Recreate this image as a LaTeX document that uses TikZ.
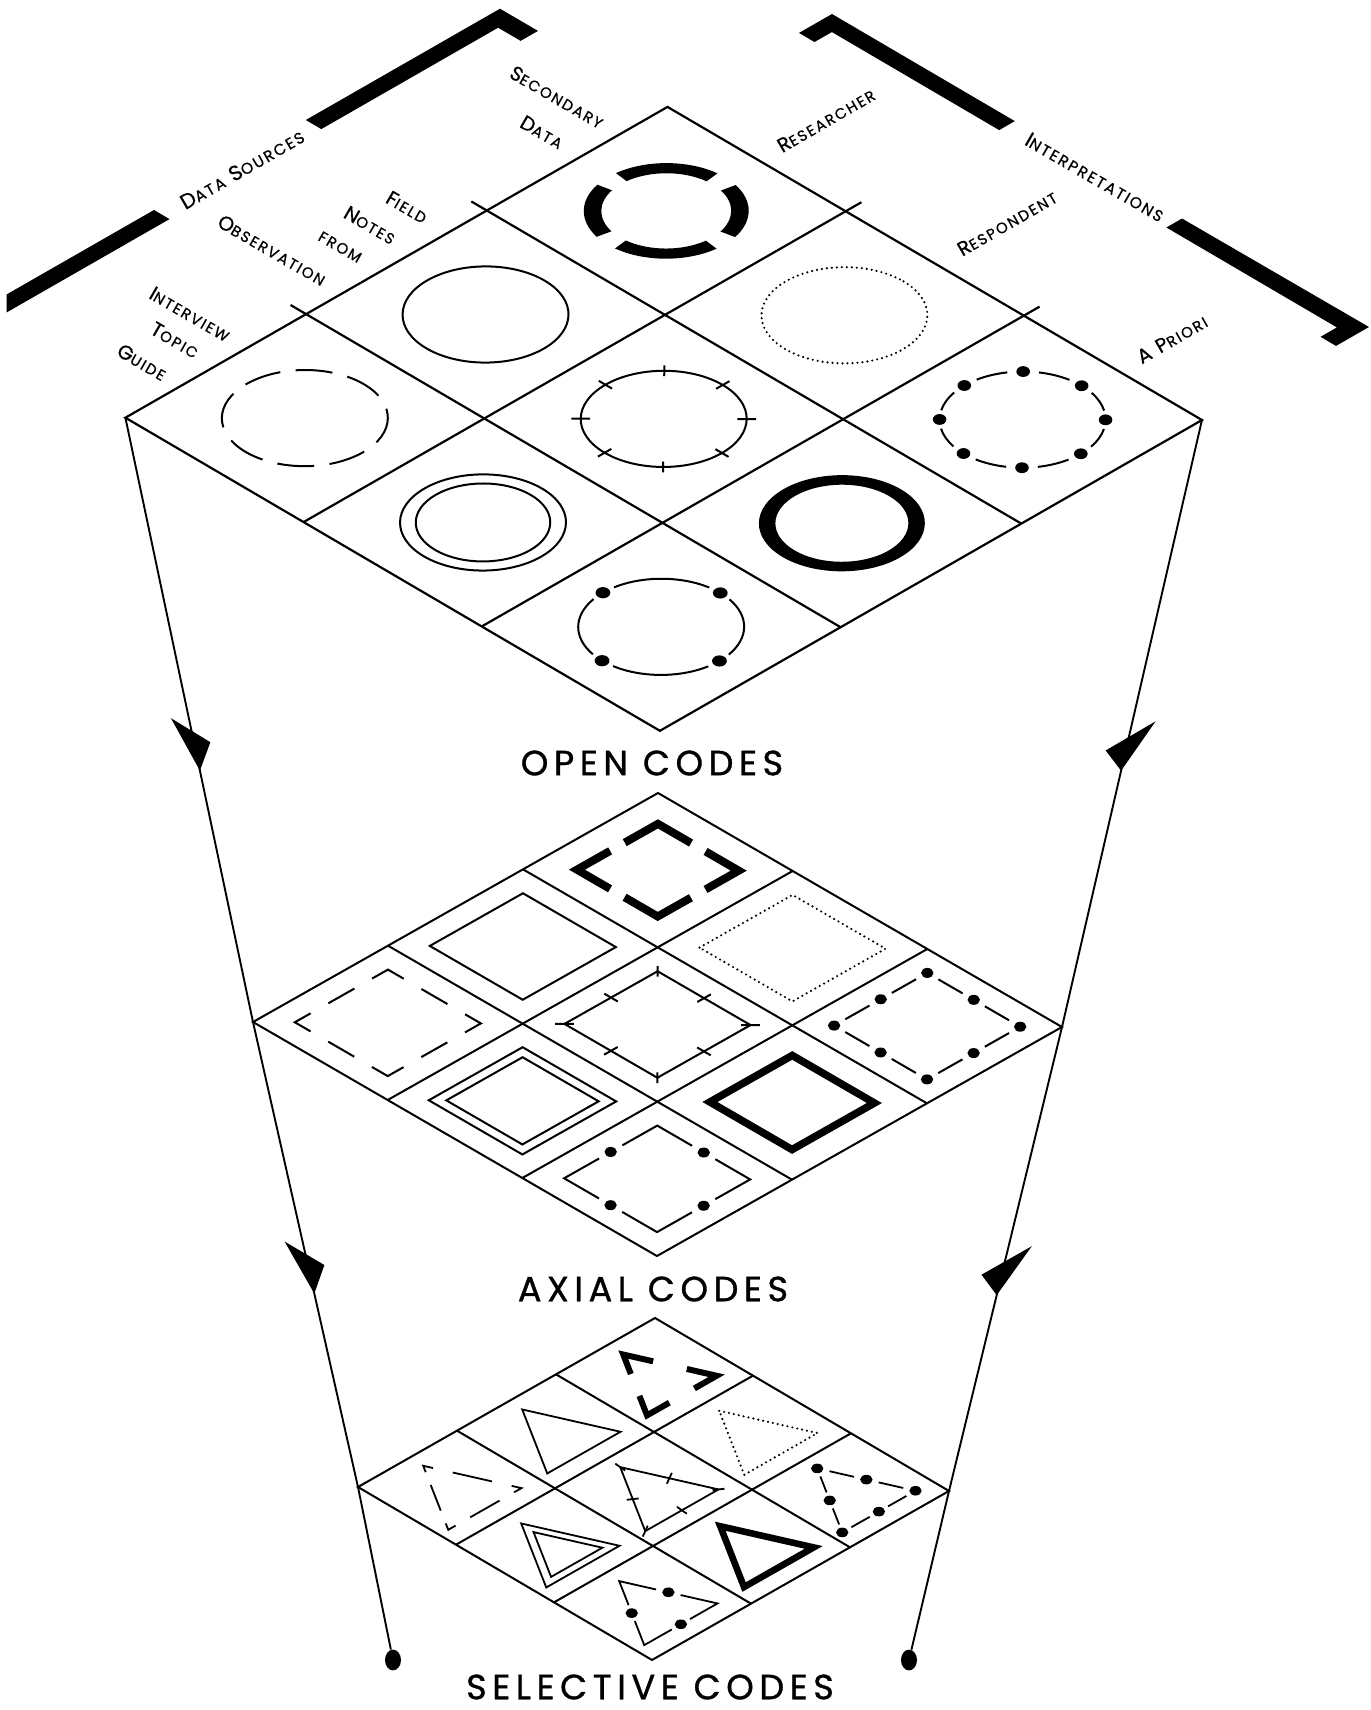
\documentclass[tikz,border=0pt]{standalone}
\usepackage{fontspec}
\setmainfont{Poppins}[LetterSpace=12,FakeBold=0.6]
\newfontfamily\bigfont{Poppins}[LetterSpace=16,FakeBold=1.0]
\usetikzlibrary{calc,decorations.markings,shapes.geometric}
\newcommand\SCa[2]{{\fontsize{10}{12}\selectfont #1}{\fontsize{7.5}{9}\selectfont #2}}
\newcommand\SCb[2]{{\fontsize{10.5}{12}\selectfont #1}{\fontsize{7.8}{9}\selectfont #2}}
% ---------- rings (top grid) ----------
\newcommand\RgThin{\draw[shp] (0,0) circle[radius=0.327];}
\newcommand\RgDash{\draw[shp,dash pattern=on 18.5pt off 7.7pt,dash phase=9.25pt] (0,0) circle[radius=0.327];}
\newcommand\RgDot{\draw[shp,dotpat] (0,0) circle[radius=0.327];}
\newcommand\RgTick{\draw[shp] (0,0) circle[radius=0.327];
  \foreach \a in {0,45,...,315} \draw[shp] (\a:0.29) -- (\a:0.364);}
\newcommand\RgDouble{\draw[shp] (0,0) circle[radius=0.327]; \draw[shp] (0,0) circle[radius=0.265];}
\newcommand\RgThick{\fill[even odd rule] (0,0) circle[radius=0.327] (0,0) circle[radius=0.262];}
\newcommand\RgBrk{\foreach \s/\e in {12/78,97/173,192/258,277/353}
  \fill (\s:0.325) arc[start angle=\s,end angle=\e,radius=0.325] -- (\e:0.256) arc[start angle=\e,end angle=\s,radius=0.256] -- cycle;}
\newcommand\RgEight{\foreach \a in {0,45,...,315} {
  \draw[shp] (\a+11:0.327) arc[start angle=\a+11,end angle=\a+34,radius=0.327];
  \fill (\a:0.327) ellipse[x radius=3.4pt,y radius=2.7pt];}}
\newcommand\RgFour{\foreach \a in {0,90,180,270} {
  \draw[shp] (\a+10:0.327) arc[start angle=\a+10,end angle=\a+80,radius=0.327];
  \fill (\a:0.327) ellipse[x radius=3.7pt,y radius=2.8pt];}}
% ---------- squares (middle grid) ----------
\newcommand\SqPath[2]{\draw[#1] (-#2,-#2) -- (#2,-#2) -- (#2,#2) -- (-#2,#2) -- cycle;}
\newcommand\SqSet[1]{\coordinate (s1) at (-#1,-#1); \coordinate (s2) at (#1,-#1);
  \coordinate (s3) at (#1,#1); \coordinate (s4) at (-#1,#1);
  \coordinate (m1) at (0,-#1); \coordinate (m2) at (#1,0); \coordinate (m3) at (0,#1); \coordinate (m4) at (-#1,0);}
\newcommand\SqCorners[2]{\foreach \p/\c/\n in {s4/s1/s2,s1/s2/s3,s2/s3/s4,s3/s4/s1}
  \draw[#1] ($(\c)!#2!(\p)$) -- (\c) -- ($(\c)!#2!(\n)$);}
\newcommand\SqThin{\SqPath{shp}{0.345}}
\newcommand\SqDot{\SqPath{shp,dotpat}{0.345}}
\newcommand\SqDouble{\SqPath{shp}{0.3475}\SqPath{shp}{0.2825}}
\newcommand\SqThick{\SqPath{line width=3.75pt}{0.305}}
\newcommand\SqTick{\SqThin
  \foreach \x/\y in {1/1,1/-1,-1/1,-1/-1} \draw[shp] (\x*0.31,\y*0.31) -- (\x*0.38,\y*0.38);
  \foreach \a in {0,90,180,270} \draw[shp] (\a:0.295) -- (\a:0.395);}
\newcommand\SqBrk{\SqSet{0.30}\SqCorners{line width=4pt}{0.41}}
\newcommand\SqDash{\SqSet{0.345}\SqCorners{shp}{0.17}
  \foreach \c/\n in {s1/s2,s2/s3,s3/s4,s4/s1} \draw[shp] ($(\c)!0.36!(\n)$) -- ($(\c)!0.64!(\n)$);}
\newcommand\SqEight{\SqSet{0.345}
  \foreach \a/\b in {s1/m1,m1/s2,s2/m2,m2/s3,s3/m3,m3/s4,s4/m4,m4/s1} {
    \draw[shp] ($(\a)!0.24!(\b)$) -- ($(\a)!0.76!(\b)$);
    \fill (\a) ellipse[x radius=3.1pt,y radius=2.5pt];}}
\newcommand\SqFour{\SqSet{0.345}
  \foreach \a/\c/\b in {m1/s2/m2,m2/s3/m3,m3/s4/m4,m4/s1/m1}
    \draw[shp] ($(\a)!0.25!(\c)$) -- (\c) -- ($(\b)!0.25!(\c)$);
  \foreach \m in {m1,m2,m3,m4} \fill (\m) ellipse[x radius=3.1pt,y radius=2.5pt];}
% ---------- triangles (selective grid) ----------
\newcommand\TriSet[1]{\coordinate (G) at (-0.02,0.1);
  \coordinate (tA) at ($(G)!#1!(0.02,-0.36)$);
  \coordinate (tB) at ($(G)!#1!(0.33,0.33)$);
  \coordinate (tC) at ($(G)!#1!(-0.41,0.33)$);
  \coordinate (mAB) at ($(tA)!0.5!(tB)$);
  \coordinate (mBC) at ($(tB)!0.5!(tC)$);
  \coordinate (mCA) at ($(tC)!0.5!(tA)$);}
\newcommand\TriPath[1]{\draw[#1] (tA) -- (tB) -- (tC) -- cycle;}
\newcommand\TrCorners[2]{\foreach \p/\c/\n in {tC/tA/tB,tA/tB/tC,tB/tC/tA}
  \draw[#1] ($(\c)!#2!(\p)$) -- (\c) -- ($(\c)!#2!(\n)$);}
\newcommand\TrThin{\TriSet{1}\TriPath{shp}}
\newcommand\TrDot{\TriSet{1}\TriPath{shp,dotpat}}
\newcommand\TrThick{\TriSet{0.95}\TriPath{line width=3.3pt}}
\newcommand\TrDouble{\TriSet{1}\TriPath{shp}\TriSet{0.7}\TriPath{shp}}
\newcommand\TrBrk{\TriSet{0.95}\TrCorners{line width=3pt}{0.32}}
\newcommand\TrDash{\TriSet{1}\TrCorners{shp}{0.1}
  \foreach \c/\n in {tA/tB,tB/tC,tC/tA} \draw[shp] ($(\c)!0.3!(\n)$) -- ($(\c)!0.7!(\n)$);}
\newcommand\TrTick{\TriSet{1}\TriPath{shp}
  \foreach \q in {tA,tB,tC,mAB,mBC,mCA} \draw[shp] ($(\q)!3pt!(G)$) -- ($(\q)!-3pt!(G)$);}
\newcommand\TrSix{\TriSet{1}
  \foreach \a/\b in {tA/mAB,mAB/tB,tB/mBC,mBC/tC,tC/mCA,mCA/tA} {
    \draw[shp] ($(\a)!0.25!(\b)$) -- ($(\a)!0.75!(\b)$);
    \fill (\a) ellipse[x radius=3.1pt,y radius=2.4pt];}}
\newcommand\TrThree{\TriSet{1}
  \foreach \a/\c/\b in {mCA/tA/mAB,mAB/tB/mBC,mBC/tC/mCA}
    \draw[shp] ($(\a)!0.25!(\c)$) -- (\c) -- ($(\b)!0.25!(\c)$);
  \foreach \m in {mAB,mBC,mCA} \fill (\m) ellipse[x radius=3.1pt,y radius=2.4pt];}
\newcommand\Cell[3]{\begin{scope}[shift={(#1,#2)}]#3\end{scope}}
\begin{document}
\begin{tikzpicture}[x=0.5pt,y=-0.5pt,
  gridln/.style={line width=1.1pt},
  shp/.style={line width=1pt},
  dotpat/.style={dash pattern=on 0pt off 2.5pt,line cap=round,line width=1.2pt},
  conn/.style={line width=0.95pt},
  lab/.style={inner sep=0pt},
  big/.style={inner sep=0pt,font=\bigfont\fontsize{17.5}{20}\selectfont},
  enddot/.style={ellipse,fill=black,inner sep=0pt,minimum width=8pt,minimum height=10.4pt},
  arrL/.style={decoration={markings,mark=at position 0.584 with {\fill (0pt,0pt) -- (-28.65pt,-8.75pt) -- (-12.8pt,8.05pt) -- cycle;}},postaction={decorate}},
  arrR/.style={decoration={markings,mark=at position 0.578 with {\fill (0pt,0pt) -- (-27.95pt,11.25pt) -- (-8.15pt,-9.8pt) -- cycle;}},postaction={decorate}}]
\fill[white] (0,0) rectangle (1371,1710);
\useasboundingbox (0,0) rectangle (1371,1710);

% grid corner coordinates
\coordinate (L1) at (125.4,417.7);
\coordinate (R1) at (1202,419.8);
\coordinate (L2) at (253,1022);
\coordinate (R2) at (1062,1027);
\coordinate (L3) at (358,1487);
\coordinate (R3) at (949,1491);
\node[enddot] (dotL) at (393,1660) {};
\node[enddot] (dotR) at (909,1660) {};

% brackets
\fill (6.5,294.5) -- (154,210) -- (169.5,219.1) -- (6.5,312.5) -- cycle;
\fill (305.8,120) -- (500,8.7) -- (538,30.9) -- (520.6,40.85) -- (498.1,27.7) -- (321.3,129.1) -- cycle;
\fill (799,32.9) -- (832,14) -- (1014.8,121.1) -- (999.2,130.1) -- (831.9,32.05) -- (814.5,42) -- cycle;
\fill (1182,218.5) -- (1369,327) -- (1336,345.9) -- (1320.5,336.8) -- (1336.9,327.4) -- (1166.4,227.5) -- cycle;

% labels
\node[lab,rotate=-30] (lSec) at (557,97) {\SCa{S}{ECONDARY}};
\node[lab,rotate=-30] (lData) at (542,132) {\SCa{D}{ATA}};
\node[lab,rotate=-30] (lField) at (407,207) {\SCa{F}{IELD}};
\node[lab,rotate=-30] (lNotes) at (370,225) {\SCa{N}{OTES}};
\node[lab,rotate=-30] (lFrom) at (340,247) {\SCa{}{FROM}};
\node[lab,rotate=-30] (lObs) at (272,250) {\SCa{O}{BSERVATION}};
\node[lab,rotate=-30] (lInt) at (190,314) {\SCa{I}{NTERVIEW}};
\node[lab,rotate=-30] (lTop) at (175,340) {\SCa{T}{OPIC}};
\node[lab,rotate=-30] (lGui) at (142,362) {\SCa{G}{UIDE}};
\node[lab,rotate=30] (lDS) at (242,169) {\SCb{D}{ATA} \SCb{S}{OURCES}};
\node[lab,rotate=30] (lRes) at (826,120) {\SCa{R}{ESEARCHER}};
\node[lab,rotate=30] (lResp) at (1007,223) {\SCa{R}{ESPONDENT}};
\node[lab,rotate=30] (lAP) at (1172,339) {\SCa{A}{} \SCa{P}{RIORI}};
\node[lab,rotate=-30] (lInterp) at (1095,177) {\SCb{I}{NTERPRETATIONS}};

\node[big] (open) at (652,763) {OPEN CODES};
\node[big] (axial) at (653,1289) {AXIAL CODES};
\node[big] (sel) at (650,1687) {SELECTIVE CODES};

% connectors
\draw[conn,arrL] (L1) -- (L2);
\draw[conn,arrL] (L2) -- (L3);
\draw[conn] (L3) -- (dotL);
\draw[conn,arrR] (R1) -- (R2);
\draw[conn,arrR] (R2) -- (R3);
\draw[conn] (R3) -- (dotR);

% top grid
\begin{scope}[shift={(L1)},x={(90.35pt,51.8pt)},y={(89.085pt,-52.185pt)}]
  \draw[gridln] (0,0) -- (3,0) -- (3,3) -- (0,3) -- cycle;
  \foreach \k in {1,2} {\draw[gridln] (\k,-0.087) -- (\k,3); \draw[gridln] (0,\k) -- (3.087,\k);}
  \Cell{2.5}{0.5}{\RgBrk}
  \Cell{1.5}{0.5}{\RgThin}
  \Cell{0.5}{0.5}{\RgDash}
  \Cell{2.5}{1.5}{\RgDot}
  \Cell{1.5}{1.5}{\RgTick}
  \Cell{0.5}{1.5}{\RgDouble}
  \Cell{2.5}{2.5}{\RgEight}
  \Cell{1.5}{2.5}{\RgThick}
  \Cell{0.5}{2.5}{\RgFour}
\end{scope}

% middle grid
\begin{scope}[shift={(L2)},x={(67.5pt,38.17pt)},y={(67.33pt,-39pt)}]
  \draw[line width=1pt] (0,0) -- (3,0) -- (3,3) -- (0,3) -- cycle;
  \foreach \k in {1,2} {\draw[line width=1pt] (\k,0) -- (\k,3); \draw[line width=1pt] (0,\k) -- (3,\k);}
  \Cell{2.5}{0.5}{\SqBrk}
  \Cell{1.5}{0.5}{\SqThin}
  \Cell{0.5}{0.5}{\SqDash}
  \Cell{2.5}{1.5}{\SqDot}
  \Cell{1.5}{1.5}{\SqTick}
  \Cell{0.5}{1.5}{\SqDouble}
  \Cell{2.5}{2.5}{\SqEight}
  \Cell{1.5}{2.5}{\SqThick}
  \Cell{0.5}{2.5}{\SqFour}
\end{scope}

% selective grid
\begin{scope}[shift={(L3)},x={(49.5pt,28.17pt)},y={(49pt,-28.83pt)},shp/.style={line width=0.9pt}]
  \draw[line width=1pt] (0,0) -- (3,0) -- (3,3) -- (0,3) -- cycle;
  \foreach \k in {1,2} {\draw[line width=1pt] (\k,0) -- (\k,3); \draw[line width=1pt] (0,\k) -- (3,\k);}
  \Cell{2.5}{0.5}{\TrBrk}
  \Cell{1.5}{0.5}{\TrThin}
  \Cell{0.5}{0.5}{\TrDash}
  \Cell{2.5}{1.5}{\TrDot}
  \Cell{1.5}{1.5}{\TrTick}
  \Cell{0.5}{1.5}{\TrDouble}
  \Cell{2.5}{2.5}{\TrSix}
  \Cell{1.5}{2.5}{\TrThick}
  \Cell{0.5}{2.5}{\TrThree}
\end{scope}
\end{tikzpicture}
\end{document}
